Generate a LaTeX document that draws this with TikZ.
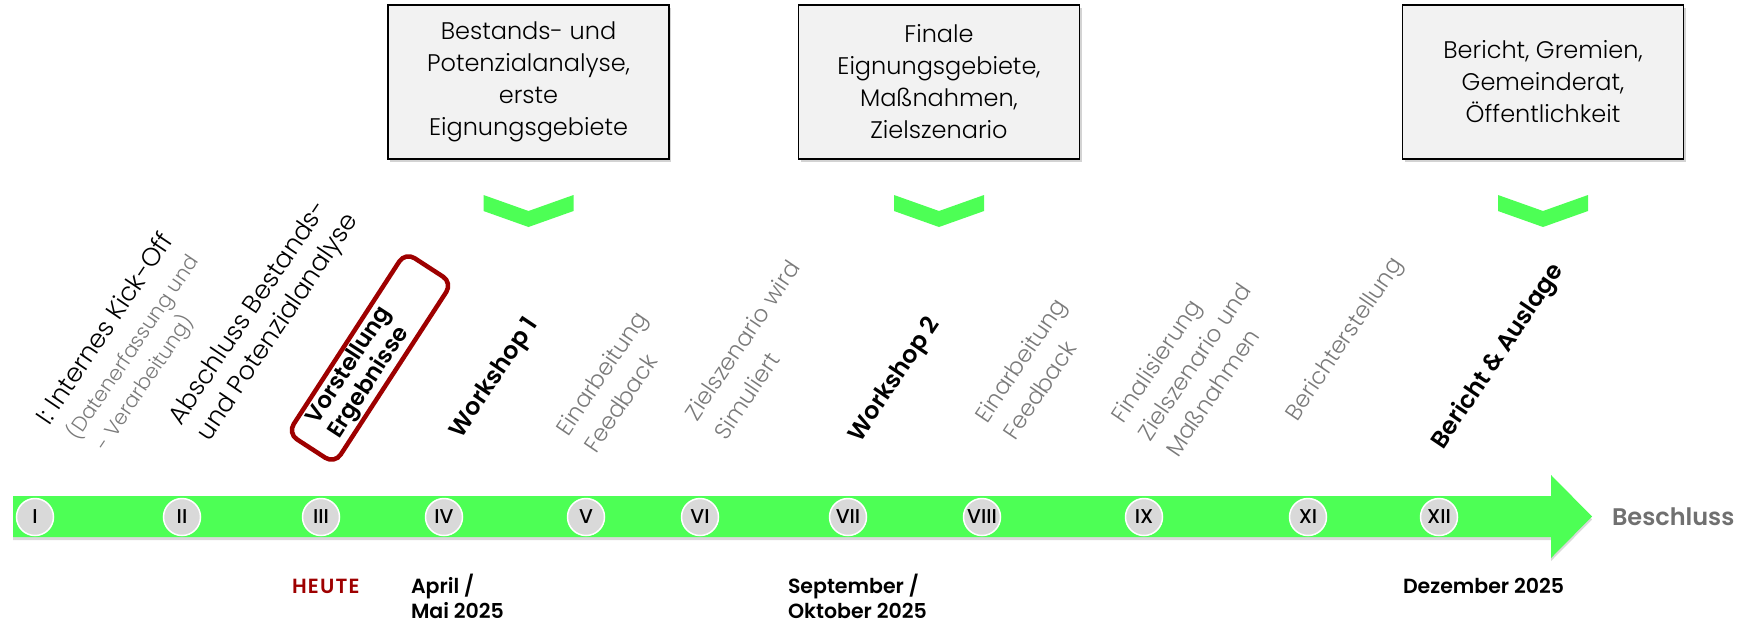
\documentclass[tikz,border=0pt]{standalone}
\usepackage{fontspec}
\setmainfont{Poppins}
\newfontfamily\lightfont{Poppins Light}
\newfontfamily\semifont{Poppins SemiBold}
\newfontfamily\medfont{Poppins Medium}
\usetikzlibrary{shadows,calc}
\definecolor{tlgreen}{HTML}{4DFF55}
\definecolor{boxgray}{HTML}{F2F2F2}
\definecolor{circgray}{HTML}{D9D9D9}
\definecolor{darkred}{HTML}{9E0000}
\definecolor{labgray}{HTML}{7A7A7A}
\definecolor{endgray}{HTML}{707070}
\begin{document}
\begin{tikzpicture}[x=1pt,y=-1pt,
  every node/.style={inner sep=0pt, outer sep=0pt},
  infobox/.style={draw=black, line width=1.4pt, fill=boxgray, minimum width=281pt, minimum height=154pt, align=center,
    font=\lightfont\fontsize{24}{32}\selectfont, drop shadow={shadow xshift=2pt, shadow yshift=-3pt, opacity=0.35}},
  chevron/.style={fill=tlgreen},
  milestone/.style={circle, fill=circgray, draw=white, line width=1.5pt, minimum size=37pt, font=\medfont\fontsize{20}{20}\selectfont},
  lab/.style={anchor=base west, rotate=56, font=\lightfont\fontsize{23}{23}\selectfont, text=labgray},
  labdark/.style={lab, text=black, font=\lightfont\fontsize{25.5}{25.5}\selectfont},
  labbold/.style={anchor=base west, rotate=56, font=\semifont\fontsize{24}{24}\selectfont, text=black},
  sublab/.style={lab, font=\lightfont\fontsize{20.5}{20.5}\selectfont},
  datelab/.style={anchor=base west, font=\semifont\fontsize{20.5}{25}\selectfont},
  hlbox/.style={draw=darkred, line width=4.5pt, rounded corners=11pt, minimum width=216pt, minimum height=56pt},
  hltext/.style={align=left, font=\semifont\fontsize{23}{26}\selectfont, text=black},
]
\useasboundingbox (0,0) rectangle (1750,622);

% info boxes
\node[infobox] (box1) at (528.5,82) {Bestands- und\\Potenzialanalyse,\\erste\\Eignungsgebiete};
\node[infobox] (box2) at (939,82) {Finale\\Eignungsgebiete,\\Maßnahmen,\\Zielszenario};
\node[infobox] (box3) at (1543,82) {Bericht, Gremien,\\Gemeinderat,\\Öffentlichkeit};

% chevrons
\foreach \b in {box1,box2,box3}{
  \path (\b.south) ++(0,36) coordinate (ch-\b);
  \fill[chevron] (ch-\b) ++(-45,0) -- ++(45,16) -- ++(45,-16) -- ++(0,16) -- ++(-45,16) -- ++(-45,-16) -- cycle;
}

% timeline arrow
\coordinate (tip) at (1592,516.5);
\fill[tlgreen, drop shadow={shadow xshift=0pt, shadow yshift=-3pt, opacity=0.3}]
  (13,496) -- (1551,496) -- (1551,475) -- (tip) -- (1551,558) -- (1551,537) -- (13,537) -- cycle;
\node[anchor=base west, font=\semifont\fontsize{24}{24}\selectfont, text=endgray] (end) at (1612,525) {Beschluss};

% milestones
\node[milestone] (m1) at (35,517) {I};
\node[milestone] (m2) at (182,517) {II};
\node[milestone] (m3) at (321,517) {III};
\node[milestone] (m4) at (444,517) {IV};
\node[milestone] (m5) at (586,517) {V};
\node[milestone] (m6) at (700,517) {VI};
\node[milestone] (m7) at (848,517) {VII};
\node[milestone] (m8) at (982,517) {VIII};
\node[milestone] (m9) at (1144,517) {IX};
\node[milestone] (m11) at (1308,517) {XI};
\node[milestone] (m12) at (1439,517) {XII};

% highlighted item: box and text
\node[hlbox, rotate=57] (hl) at (370,358) {};
\node[hltext, rotate=57] (hlt) at (360.5,373) {Vorstellung\\Ergebnisse};

% rotated labels
\begin{scope}[shift={(11,4)}]
\node[labdark] (l1a) at (38,422) {I: Internes Kick-Off};
\node[sublab] (l1b) at (67,437) {(Datenerfassung und};
\node[sublab] (l1c) at (95,448) {- Verarbeitung)};
\node[labdark] (l2a) at (170,422) {Abschluss Bestands-};
\node[labdark] (l2b) at (198,438) {und Potenzialanalyse};
\node[labbold] (l4) at (450,435) {Workshop 1};
\node[lab] (l5a) at (557,433) {Einarbeitung};
\node[lab] (l5b) at (585,450) {Feedback};
\node[lab] (l6a) at (686,418) {Zielszenario wird};
\node[lab] (l6b) at (715,437) {Simuliert};
\node[labbold] (l7) at (849,439) {Workshop 2};
\node[lab] (l8a) at (976,420) {Einarbeitung};
\node[lab] (l8b) at (1004,437) {Feedback};
\node[lab] (l9a) at (1112,420) {Finalisierung};
\node[lab] (l9b) at (1139,438) {Zielszenario und};
\node[lab] (l9c) at (1167,454) {Maßnahmen};
\node[lab] (l10) at (1286,418) {Berichterstellung};
\node[labbold] (l11) at (1432,446) {Bericht \& Auslage};
\end{scope}

% dates
\node[datelab, text=darkred, font=\semifont\addfontfeature{LetterSpace=6}\fontsize{20.5}{25}\selectfont] (heute) at (292,593) {HEUTE};
\node[datelab] (apr1) at (411,593) {April /};
\node[datelab] (apr2) at (411,618) {Mai 2025};
\node[datelab] (sep1) at (788,593) {September /};
\node[datelab] (sep2) at (788,618) {Oktober 2025};
\node[datelab] (dez) at (1403,593) {Dezember 2025};
\end{tikzpicture}
\end{document}
